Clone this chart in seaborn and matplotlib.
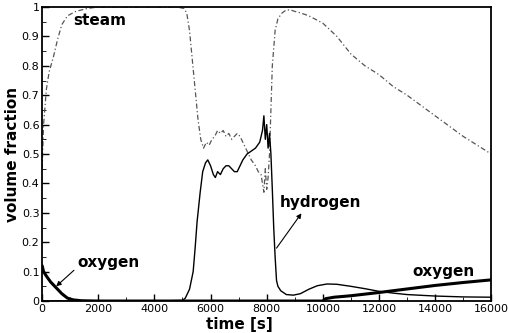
import numpy as np
import pandas as pd
import seaborn as sns
import matplotlib
matplotlib.use("Agg")
import matplotlib.pyplot as plt
from matplotlib.ticker import MultipleLocator

# ---- data ----
steam_t = [0, 50, 150, 250, 400, 550, 700, 900, 1200, 1600, 2000, 3000, 4000, 4800,
           5050, 5150, 5250, 5350, 5450, 5550, 5650, 5750, 5850, 5950, 6050, 6150, 6250,
           6350, 6450, 6550, 6650, 6750, 6850, 6950, 7050, 7150, 7300, 7450, 7600, 7700,
           7800, 7850, 7900, 7950, 8000, 8050, 8100, 8150, 8200, 8300, 8400, 8550, 8700,
           8850, 9000, 9200, 9500, 9800, 10000, 10500, 11000, 11500, 12000, 12500, 13000,
           13500, 14000, 14500, 15000, 15500, 16000]
steam_v = [0.45, 0.60, 0.72, 0.78, 0.83, 0.89, 0.94, 0.97, 0.985, 0.995, 1.0, 1.0, 1.0, 1.0,
           0.995, 0.98, 0.92, 0.82, 0.72, 0.62, 0.55, 0.52, 0.54, 0.53, 0.55, 0.56, 0.58,
           0.57, 0.58, 0.56, 0.57, 0.55, 0.56, 0.57, 0.56, 0.54, 0.51, 0.48, 0.46, 0.44,
           0.43, 0.40, 0.37, 0.45, 0.38, 0.42, 0.50, 0.65, 0.80, 0.92, 0.96, 0.98, 0.99,
           0.99, 0.985, 0.98, 0.97, 0.955, 0.945, 0.90, 0.84, 0.80, 0.77, 0.73, 0.70,
           0.665, 0.63, 0.595, 0.56, 0.53, 0.50]

hyd_t = [0, 2000, 4000, 5000, 5100, 5250, 5380, 5450, 5520, 5630, 5720, 5820, 5900, 6000,
         6100, 6170, 6250, 6350, 6450, 6550, 6650, 6750, 6850, 6950, 7050, 7150, 7300,
         7450, 7600, 7750, 7850, 7900, 7950, 8000, 8050, 8100, 8150, 8200, 8250, 8300,
         8350, 8400, 8500, 8700, 8950, 9200, 9500, 9800, 10150, 10500, 11000, 11500,
         12000, 12500, 13000, 14000, 15000, 16000]
hyd_v = [0.0, 0.0, 0.0, 0.002, 0.01, 0.04, 0.10, 0.18, 0.27, 0.37, 0.44, 0.47, 0.48, 0.46,
         0.43, 0.42, 0.44, 0.43, 0.45, 0.46, 0.46, 0.45, 0.44, 0.44, 0.46, 0.48, 0.50,
         0.51, 0.52, 0.54, 0.58, 0.63, 0.55, 0.60, 0.52, 0.57, 0.50, 0.38, 0.25, 0.15,
         0.07, 0.05, 0.035, 0.022, 0.02, 0.025, 0.04, 0.052, 0.058, 0.057, 0.05, 0.042,
         0.033, 0.027, 0.022, 0.017, 0.014, 0.013]

oxy_t = [0, 50, 150, 300, 500, 700, 900, 1100, 1400, 2000, 4000, 6000, 8000, 10000,
         10100, 10400, 11000, 12000, 13000, 14000, 15000, 16000]
oxy_v = [0.12, 0.10, 0.085, 0.065, 0.045, 0.025, 0.01, 0.004, 0.001, 0.0, 0.0, 0.0, 0.0,
         0.0, 0.008, 0.013, 0.018, 0.029, 0.041, 0.053, 0.063, 0.072]

x_ticks = [0, 2000, 4000, 6000, 8000, 10000, 12000, 14000, 16000]
y_ticks = [0, 0.1, 0.2, 0.3, 0.4, 0.5, 0.6, 0.7, 0.8, 0.9, 1.0]
y_tick_labels = ["0", "0.1", "0.2", "0.3", "0.4", "0.5", "0.6", "0.7", "0.8", "0.9", "1"]

sns.set_style("ticks")
plt.rcParams["font.family"] = ["DejaVu Sans"]
plt.rcParams["text.color"] = "black"
plt.rcParams["axes.labelcolor"] = "black"
plt.rcParams["xtick.color"] = "black"
plt.rcParams["ytick.color"] = "black"
plt.rcParams["axes.edgecolor"] = "black"

fig = plt.figure(figsize=(5.08, 3.33), dpi=100)
ax = fig.add_axes([0.083, 0.096, 0.884, 0.883])

sns.lineplot(x=steam_t, y=steam_v, ax=ax, color="#555555", lw=0.9,
             linestyle=(0, (4, 2, 1, 2)))
sns.lineplot(x=hyd_t, y=hyd_v, ax=ax, color="black", lw=1.0)
sns.lineplot(x=oxy_t, y=oxy_v, ax=ax, color="black", lw=2.2)

ax.set_xlim(0, 16000)
ax.set_ylim(0, 1)
ax.set_xticks(x_ticks)
ax.set_xticklabels([str(v) for v in x_ticks], fontsize=8)
ax.set_yticks(y_ticks)
ax.set_yticklabels(y_tick_labels, fontsize=8)
ax.xaxis.set_minor_locator(MultipleLocator(1000))
ax.yaxis.set_minor_locator(MultipleLocator(0.05))
ax.tick_params(which="both", direction="in", top=False, right=False, pad=2)
ax.tick_params(which="major", length=5, width=1)
ax.tick_params(which="minor", length=3)
for s in ax.spines.values():
    s.set_linewidth(1.3)
    s.set_visible(True)

ax.set_xlabel("time [s]", fontsize=11, fontweight="bold", labelpad=-1)
ax.set_ylabel("volume fraction", fontsize=11, fontweight="bold", labelpad=1)
ax.xaxis.set_label_coords(0.44, -0.055)

ax.text(1100, 0.94, "steam", fontsize=11, fontweight="bold")
ax.annotate("oxygen", xy=(500, 0.05), xytext=(1250, 0.13), fontsize=11, fontweight="bold",
            va="center",
            arrowprops=dict(arrowstyle="-|>", color="black", lw=0.8, shrinkA=0, shrinkB=0,
                            mutation_scale=7, relpos=(0, 0.2)))
ax.annotate("hydrogen", xy=(8350, 0.18), xytext=(8450, 0.335), fontsize=11,
            fontweight="bold", va="center",
            arrowprops=dict(arrowstyle="<|-", color="black", lw=0.8, shrinkA=0, shrinkB=0,
                            mutation_scale=7, relpos=(0.3, 0)))
ax.text(13200, 0.10, "oxygen", fontsize=11, fontweight="bold", va="center")

fig.savefig("out.png", dpi=100)
